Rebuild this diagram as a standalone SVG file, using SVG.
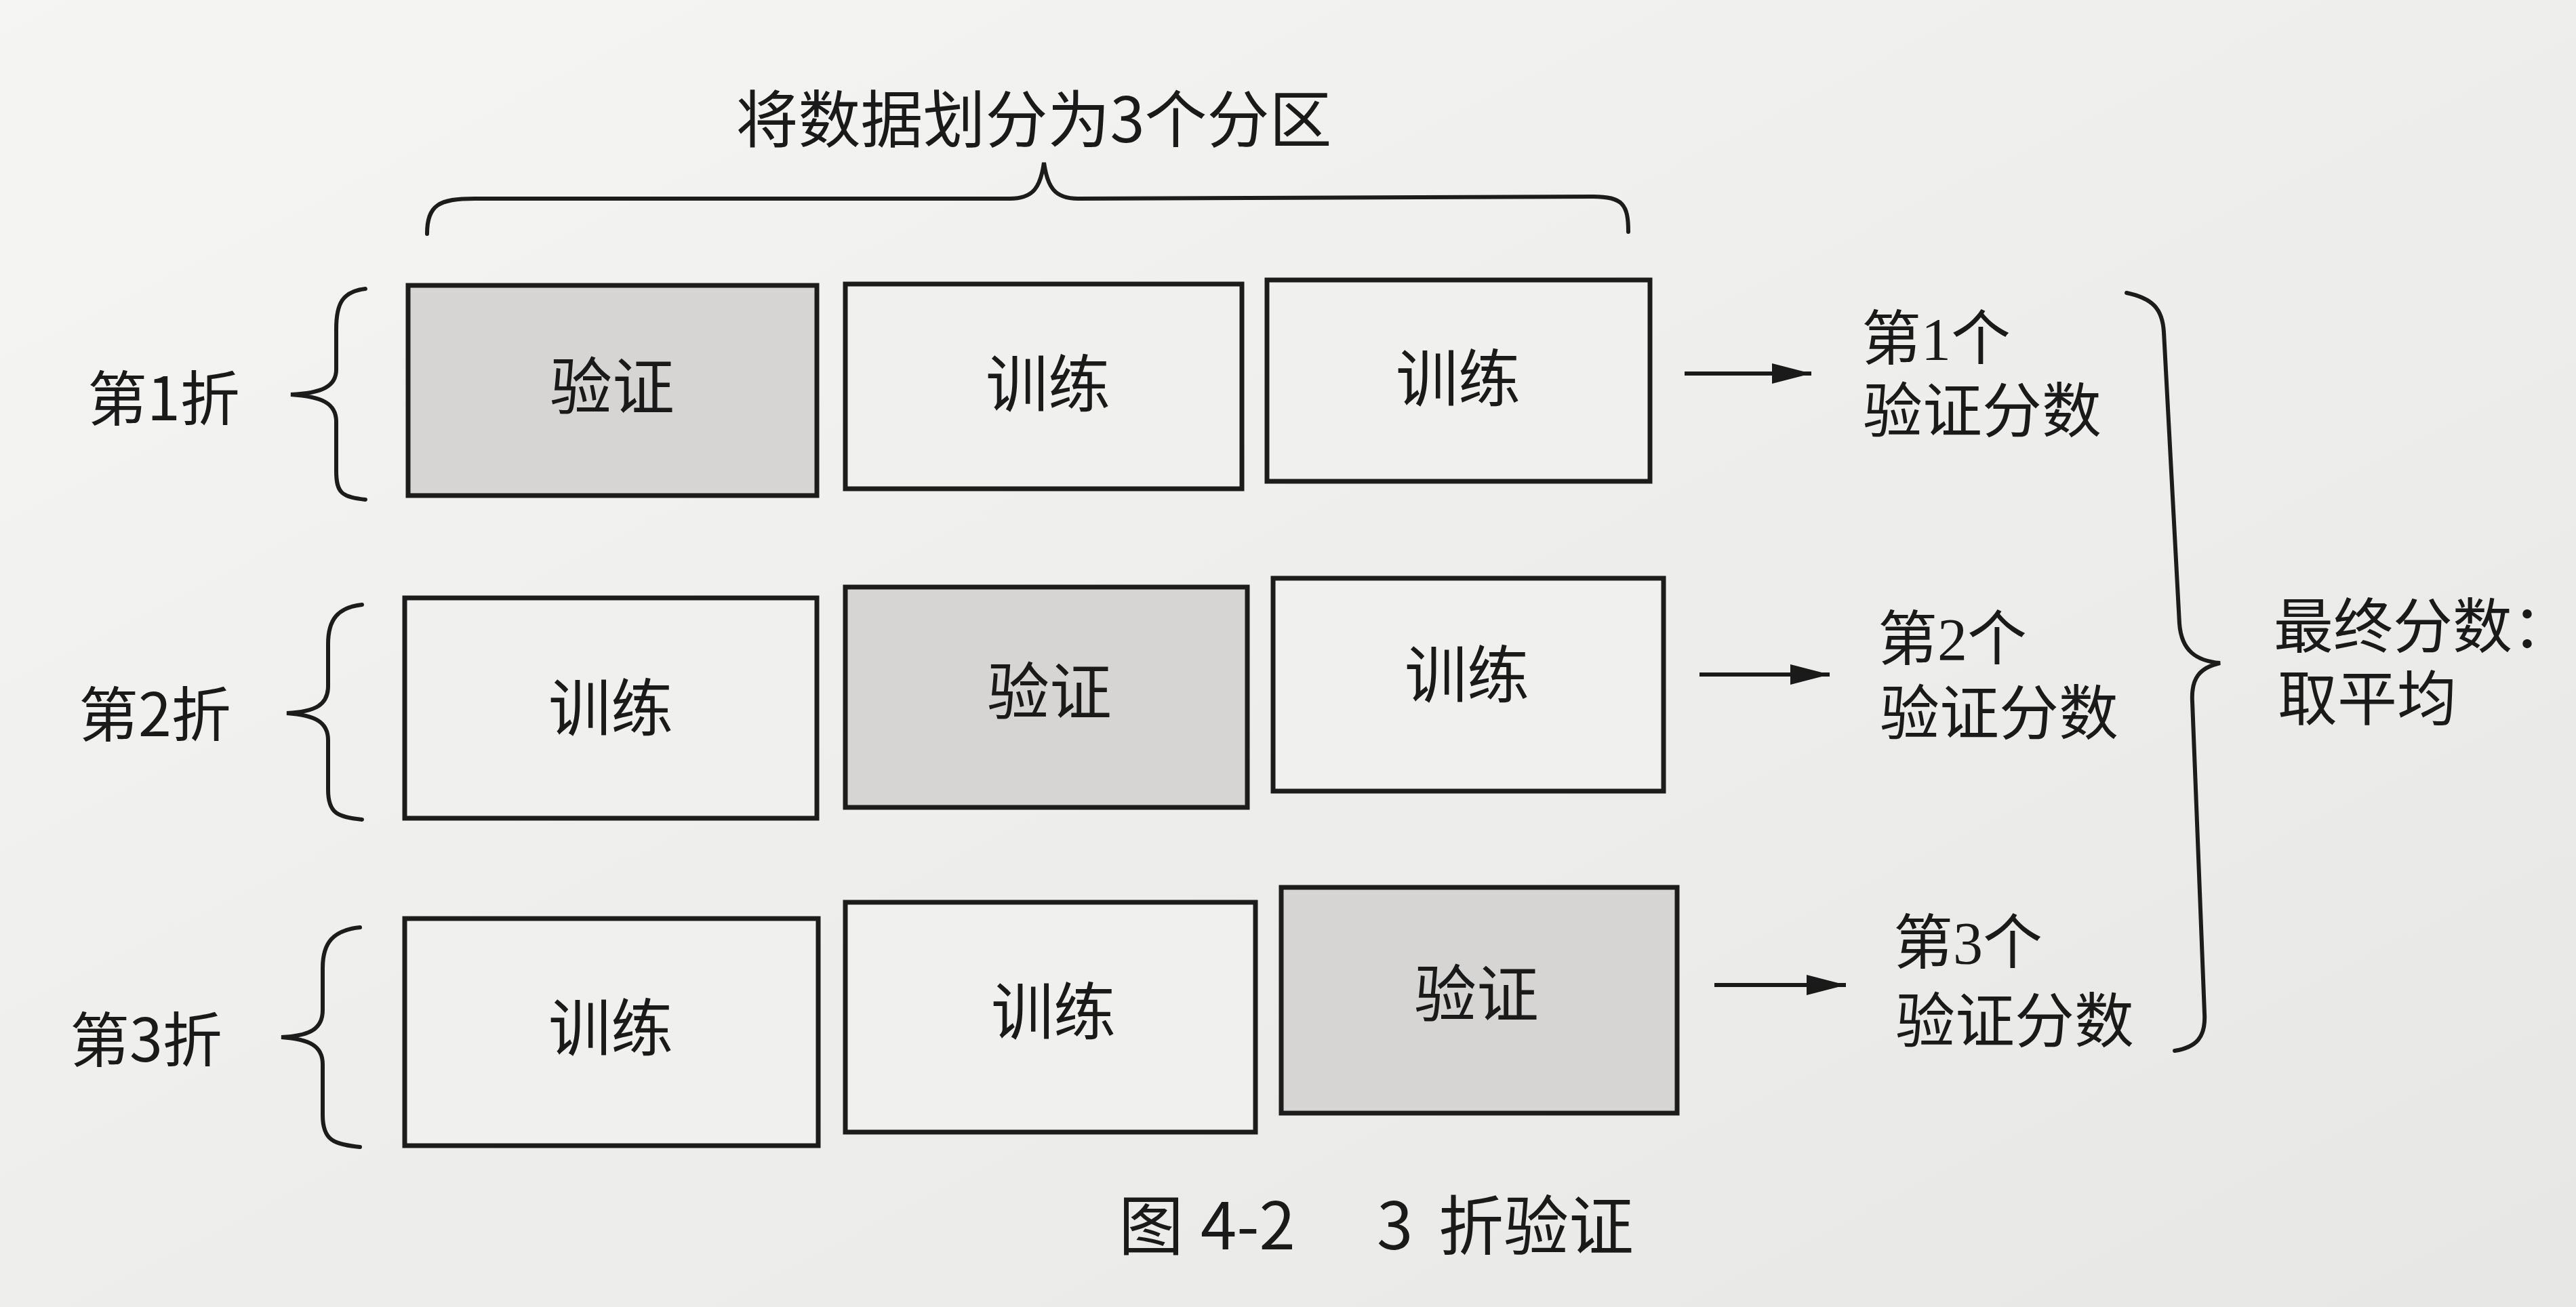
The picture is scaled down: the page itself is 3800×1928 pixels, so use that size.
<svg xmlns="http://www.w3.org/2000/svg" width="3800" height="1928" viewBox="0 0 3800 1928">
<defs>
<linearGradient id="bg" x1="0" y1="0" x2="1" y2="1">
<stop offset="0" stop-color="#f5f5f4"/>
<stop offset="1" stop-color="#e7e7e5"/>
</linearGradient>
<marker id="arr" markerUnits="userSpaceOnUse" markerWidth="60" markerHeight="34" refX="58" refY="17" orient="auto">
<path d="M0,2 L58,17 L0,32 Z" fill="#1a1a1a"/>
</marker>
<style>
.box{fill:#f0f0ee;stroke:#1c1c1c;stroke-width:7}
.val{fill:#d6d5d3;stroke:#1c1c1c;stroke-width:7}
.lbl{font-family:"Noto Sans CJK SC","Noto Sans",sans-serif;font-size:92px;fill:#1a1a1a;text-anchor:middle}
.side{font-family:"Noto Sans CJK SC","Noto Sans",sans-serif;font-size:88px;fill:#1a1a1a}
.score{font-family:"Liberation Serif","Noto Sans CJK SC",serif;font-size:88px;fill:#1a1a1a}
.brace{fill:none;stroke:#1c1c1c;stroke-width:6;stroke-linecap:round}
.conn{stroke:#1a1a1a;stroke-width:6;fill:none}
</style>
</defs>
<rect x="0" y="0" width="3800" height="1928" fill="url(#bg)"/>

<g id="title">
<text class="lbl" x="1525" y="210">将数据划分为3个分区</text>
<path class="brace" d="M630 345 C630 302 648 293 700 293 L1490 293 C1525 293 1535 275 1540 240 C1545 275 1555 293 1590 293 L2350 290 C2394 290 2402 302 2402 342"/>
</g>

<g id="fold1">
<text class="side" x="129" y="620">第1折</text>
<path class="brace" d="M539 426 C505 430 496 448 496 485 L496 545 C496 570 475 580 429 582 C475 585 496 595 496 622 L496 695 C496 728 505 733 539 737"/>
<g id="f1p1"><rect class="val" x="602" y="421" width="603" height="310"/><text class="lbl" x="903" y="604">验证</text></g>
<g id="f1p2"><rect class="box" x="1247" y="419" width="585" height="302"/><text class="lbl" x="1546" y="600">训练</text></g>
<g id="f1p3"><rect class="box" x="1869" y="413" width="565" height="297"/><text class="lbl" x="2151" y="592">训练</text></g>
</g>

<g id="fold2">
<text class="side" x="116" y="1086">第2折</text>
<path class="brace" d="M534 892 C498 896 484 914 484 950 L484 1012 C484 1040 465 1050 423 1052 C465 1055 484 1065 484 1092 L484 1165 C484 1200 498 1205 534 1209"/>
<g id="f2p1"><rect class="box" x="597" y="882" width="608" height="325"/><text class="lbl" x="901" y="1078">训练</text></g>
<g id="f2p2"><rect class="val" x="1247" y="866" width="593" height="325"/><text class="lbl" x="1548" y="1054">验证</text></g>
<g id="f2p3"><rect class="box" x="1878" y="853" width="576" height="314"/><text class="lbl" x="2164" y="1029">训练</text></g>
</g>

<g id="fold3">
<text class="side" x="103" y="1566">第3折</text>
<path class="brace" d="M531 1368 C492 1372 476 1390 476 1428 L476 1490 C476 1518 457 1528 415 1530 C457 1533 476 1543 476 1570 L476 1645 C476 1682 492 1688 531 1692"/>
<g id="f3p1"><rect class="box" x="597" y="1355" width="610" height="335"/><text class="lbl" x="901" y="1550">训练</text></g>
<g id="f3p2"><rect class="box" x="1247" y="1331" width="605" height="339"/><text class="lbl" x="1554" y="1526">训练</text></g>
<g id="f3p3"><rect class="val" x="1890" y="1309" width="584" height="333"/><text class="lbl" x="2178" y="1500">验证</text></g>
</g>

<g id="connectors">
<line class="conn" x1="2485" y1="551" x2="2672" y2="551" marker-end="url(#arr)"/>
<line class="conn" x1="2507" y1="995" x2="2699" y2="995" marker-end="url(#arr)"/>
<line class="conn" x1="2529" y1="1453" x2="2723" y2="1453" marker-end="url(#arr)"/>
</g>

<g id="score1">
<text class="score" x="2746" y="530">第1个</text>
<text class="score" x="2748" y="637">验证分数</text>
</g>
<g id="score2">
<text class="score" x="2770" y="973">第2个</text>
<text class="score" x="2773" y="1083">验证分数</text>
</g>
<g id="score3">
<text class="score" x="2793" y="1421">第3个</text>
<text class="score" x="2796" y="1537">验证分数</text>
</g>

<g id="final">
<path class="brace" d="M3137 432 C3175 440 3190 455 3192 490 L3215 920 C3218 960 3240 975 3275 978 C3245 985 3232 1000 3234 1035 L3252 1495 C3254 1530 3240 1545 3208 1550"/>
<text class="score" x="3354" y="955">最终分数：</text>
<text class="score" x="3360" y="1062">取平均</text>
</g>

<g id="caption">
<text class="side" style="font-size:96px" y="1843"><tspan x="1650">图</tspan><tspan x="1771">4-2</tspan><tspan x="2031">3</tspan><tspan x="2122">折验证</tspan></text>
</g>
</svg>
